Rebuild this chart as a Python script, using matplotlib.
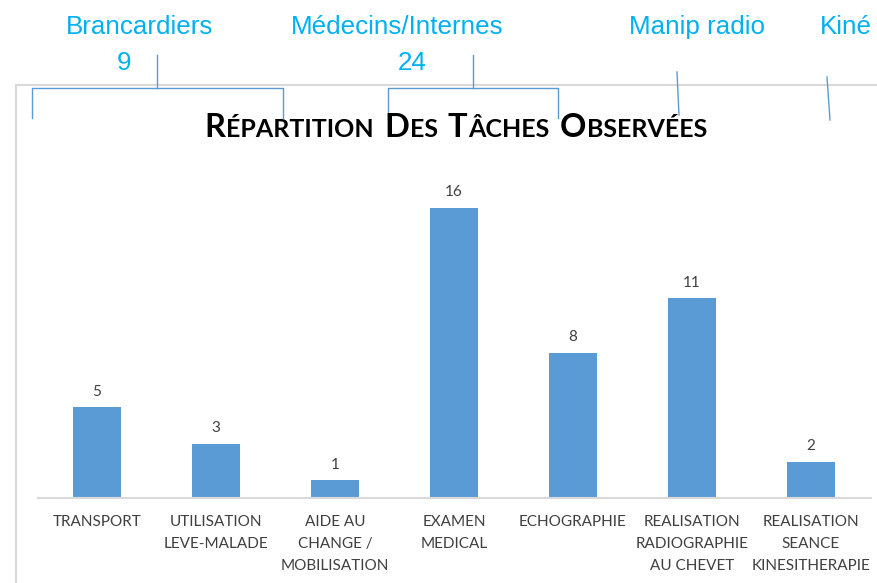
import matplotlib
matplotlib.use('Agg')
import matplotlib.pyplot as plt
from matplotlib.lines import Line2D

categories = ['TRANSPORT', 'UTILISATION\nLEVE-MALADE', 'AIDE AU\nCHANGE /\nMOBILISATION',
              'EXAMEN\nMEDICAL', 'ECHOGRAPHIE', 'REALISATION\nRADIOGRAPHIE\nAU CHEVET',
              'REALISATION\nSEANCE\nKINESITHERAPIE']
counts = [5, 3, 1, 16, 8, 11, 2]
groups = ['Brancardiers', 'Médecins/Internes', 'Manip radio', 'Kiné']
group_totals = ['9', '24']

W, H = 877, 583
fig = plt.figure(figsize=(W / 100, H / 100), dpi=100)


def fx(px):
    return px / W


def fy(py):
    return 1 - py / H


def fline(xs, ys, color, lw):
    fig.add_artist(Line2D([fx(v) for v in xs], [fy(v) for v in ys],
                          transform=fig.transFigure, color=color, lw=lw))


# chart frame (cropped on right / bottom)
fline([16, 16], [85, 583], '#D9D9D9', 1.5)
fline([16, 877], [85, 85], '#D9D9D9', 1.5)

ax = fig.add_axes([fx(37.5), fy(498), fx(870.5) - fx(37.5), fy(135) - fy(498)])
xpos = list(range(len(counts)))
bars = ax.bar(xpos, counts, width=0.4, color='#5B9BD5')
ax.set_xlim(-0.5, 6.5)
ax.set_ylim(0, 20)
for s in ['top', 'right', 'left']:
    ax.spines[s].set_visible(False)
ax.spines['bottom'].set_color('#D9D9D9')
ax.spines['bottom'].set_linewidth(1.5)
ax.set_yticks([])
ax.set_xticks(xpos)
ax.set_xticklabels(categories, fontsize=11, color='#404040', linespacing=1.7,
                   family='Lato')
ax.tick_params(axis='x', length=0, pad=12.5)
for b, v in zip(bars, counts):
    ax.annotate(str(v), (b.get_x() + b.get_width() / 2, v), xytext=(0, 6),
                textcoords='offset points', ha='center', va='bottom',
                fontsize=11, color='#404040', family='Lato')

# small caps title
renderer = fig.canvas.get_renderer()
pieces = [('R', 'ÉPARTITION'), ('D', 'ES'), ('T', 'ÂCHES'), ('O', 'BSERVÉES')]
big, small, gap = 23.5, 18, 10
arts = []
for first, rest in pieces:
    a = fig.text(0, fy(137), first, fontsize=big, fontweight='bold', family='Lato',
                 color='#000000', va='baseline')
    b = fig.text(0, fy(137), rest.upper(), fontsize=small, fontweight='bold',
                 family='Lato', color='#000000', va='baseline')
    arts.append((a, b))
widths = []
for a, b in arts:
    widths.append((a.get_window_extent(renderer).width, b.get_window_extent(renderer).width))
total = sum(wa + wb + 1 for wa, wb in widths) + gap * (len(arts) - 1)
xcur = 456 - total / 2
for (a, b), (wa, wb) in zip(arts, widths):
    a.set_x(fx(xcur))
    b.set_x(fx(xcur + wa + 1))
    xcur += wa + wb + 1 + gap

# group annotations
blue = '#00B0F0'
lc = '#5B9BD5'
label_pos = [(140, 27), (397, 27), (697, 27), (846, 27)]
for g, (px, py) in zip(groups, label_pos):
    fig.text(fx(px), fy(py), g, fontsize=18.7, color=blue, family='Liberation Sans',
             ha='center', va='center')
for t, px in zip(group_totals, [124, 412]):
    fig.text(fx(px), fy(63), t, fontsize=18.7, color=blue, family='Liberation Sans',
             ha='center', va='center')

# brackets
fline([32, 32, 283, 283], [118, 88, 88, 118], lc, 1)
fline([157, 157], [55, 88], lc, 1)
fline([388, 388, 558, 558], [120, 88, 88, 118], lc, 1)
fline([473, 473], [55, 88], lc, 1)
fline([677, 679], [72, 115], lc, 1)
fline([827, 830], [77, 120], lc, 1)

fig.savefig('out.png', dpi=100)
